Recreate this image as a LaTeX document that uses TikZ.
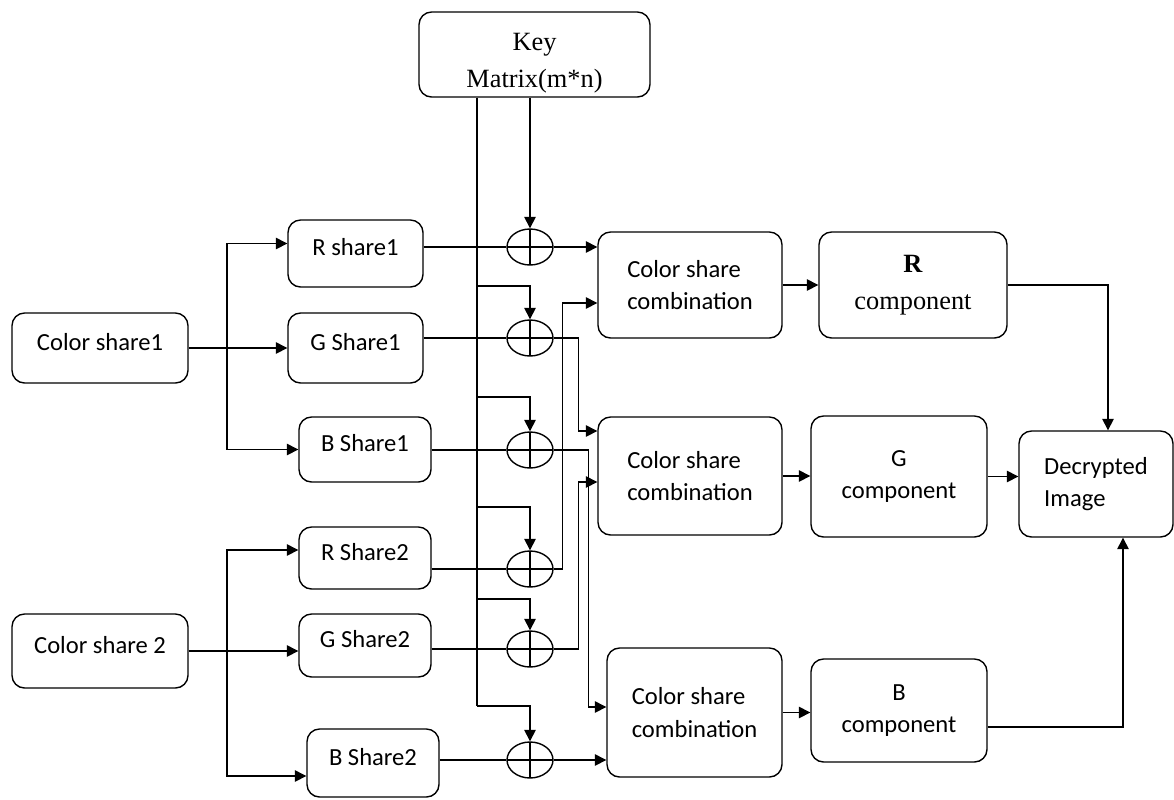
\documentclass[tikz,border=0pt]{standalone}
\usepackage{fontspec}
\setmainfont{Liberation Serif}
\newfontfamily\carlito{Carlito}
\usepackage{tikz}
\usetikzlibrary{shapes,arrows.meta,calc,positioning}

\begin{document}
\begin{tikzpicture}[->,>={Triangle[length=6.5pt,width=6.5pt]},x=0.02cm,y=-0.02cm,line width=0.8pt]
  \tikzstyle{block} = [draw,rounded corners=0.25cm,inner sep=2pt,font=\carlito\fontsize{14}{18.5}\selectfont]
  \tikzstyle{share} = [block,text depth=7pt]
  \tikzstyle{serif} = [font=\fontsize{15}{21}\selectfont]
  \tikzstyle{xor} = [draw,ellipse,minimum width=0.92cm,minimum height=0.72cm,inner sep=0pt,
    path picture={\draw[-] (path picture bounding box.north) -- (path picture bounding box.south)
      (path picture bounding box.west) -- (path picture bounding box.east);}]
  \useasboundingbox (0,0) rectangle (1174,799);

  \node (key) [block,serif,align=center,minimum width=4.62cm,minimum height=1.7cm] at (534.5,54.5) {\rule{0pt}{20pt}Key\\Matrix(m*n)};

  \node (cs_1) [share,minimum width=3.52cm,minimum height=1.4cm] at (100,348) {Color share1};
  \node (cs_2) [share,minimum width=3.52cm,minimum height=1.48cm] at (100,651) {Color share 2};

  \node (r_1) [share,minimum width=2.7cm,minimum height=1.34cm] at (355.5,253.5) {R share1};
  \node (g_1) [share,minimum width=2.7cm,minimum height=1.4cm] at (355.5,348) {G Share1};
  \node (b_1) [share,minimum width=2.64cm,minimum height=1.3cm] at (365,449.5) {B Share1};
  \node (r_2) [share,minimum width=2.64cm,minimum height=1.24cm] at (365,558) {R Share2};
  \node (g_2) [share,minimum width=2.64cm,minimum height=1.26cm] at (365,645.5) {G Share2};
  \node (b_2) [share,minimum width=2.64cm,minimum height=1.36cm] at (373,763) {B Share2};

  \node (xor_1) [xor] at (530,247) {};
  \node (xor_2) [xor] at (530,338) {};
  \node (xor_3) [xor] at (530,450) {};
  \node (xor_4) [xor] at (530,569) {};
  \node (xor_5) [xor] at (530,649) {};
  \node (xor_6) [xor] at (530,760) {};

  \node (comb_1) [block,align=left,minimum width=3.68cm,minimum height=2.12cm] at (690,285) {Color share\\combination};
  \node (comb_2) [block,align=left,minimum width=3.68cm,minimum height=2.36cm] at (690,476) {Color share\\combination};
  \node (comb_3) [block,align=left,minimum width=3.5cm,minimum height=2.58cm] at (694.5,712.5) {Color share\\combination};

  \node (rc) [block,serif,align=center,minimum width=3.76cm,minimum height=2.12cm] at (913,285) {\textbf{R}\\component};
  \node (gc) [block,align=center,minimum width=3.52cm,minimum height=2.42cm] at (899,476.5) {G\\component};
  \node (bc) [block,align=center,minimum width=3.52cm,minimum height=2.06cm] at (899,710.5) {B\\component};
  \node (img) [block,align=left,minimum width=3.08cm,minimum height=2.12cm] at (1096,484) {Decrypted\\Image};

  \coordinate (sp_1) at (227,348);
  \coordinate (sp_2) at (227,651);
  \draw (cs_1.east) -- (cs_1.east -| g_1.west);
  \draw (sp_1) |- ([yshift=0.2cm]r_1.west);
  \draw (sp_1) |- (b_1.west);
  \draw (cs_2.east) -- (cs_2.east -| g_2.west);
  \draw (sp_2) |- ([yshift=0.16cm]r_2.west);
  \draw (sp_2) |- ([yshift=-0.26cm]b_2.west);

  \draw[-] (r_1.east |- xor_1) -- (xor_1.west);
  \draw[-] (g_1.east |- xor_2) -- (xor_2.west);
  \draw[-] (b_1.east |- xor_3) -- (xor_3.west);
  \draw[-] (r_2.east |- xor_4) -- (xor_4.west);
  \draw[-] (g_2.east |- xor_5) -- (xor_5.west);
  \draw[-] (b_2.east |- xor_6) -- (xor_6.west);

  \foreach \n/\y in {2/286,3/397,4/507,5/599,6/706}{
    \coordinate (t_\n) at (477,\y);
    \draw (t_\n) -| (xor_\n.north);
  }
  \draw[-] (key.south -| t_2) -- (t_6);
  \draw (key.south -| xor_1) -- (xor_1.north);

  \draw (xor_1.east) -- (xor_1 -| comb_1.west);
  \draw (xor_2.east) -- ++(25,0) |- ([yshift=0.9cm]comb_2.west);
  \draw (xor_3.east) -- ++(35,0) |- ([yshift=0.11cm]comb_3.west);
  \draw (xor_4.east) -- ++(9,0) |- ([yshift=-0.36cm]comb_1.west);
  \draw (xor_5.east) -- ++(25,0) |- ([yshift=-0.12cm]comb_2.west);
  \draw (xor_6.east) -- (xor_6 -| comb_3.west);

  \draw (comb_1.east) -- (comb_1.east -| rc.west);
  \draw (comb_2.east) -- (comb_2.east -| gc.west);
  \draw (comb_3.east) -- (comb_3.east -| bc.west);
  \draw (rc.east) -| ([xshift=0.24cm]img.north);
  \draw (gc.east) -- (gc.east -| img.west);
  \draw ([yshift=-0.33cm]bc.east) -| ([xshift=0.54cm]img.south);
\end{tikzpicture}
\end{document}
